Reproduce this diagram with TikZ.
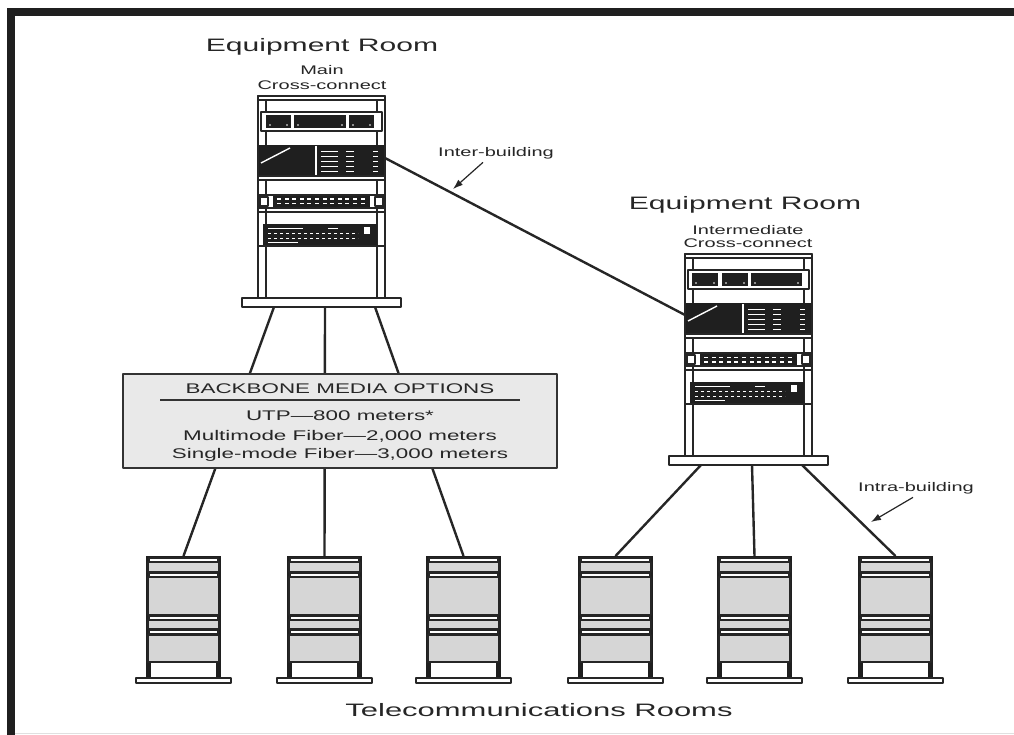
\documentclass[tikz,border=0pt]{standalone}
\usepackage{fontspec}
\setmainfont{Liberation Sans}
\usepackage{graphicx}
\usetikzlibrary{arrows.meta}

% the lettering is drawn stretched sideways
\newcommand{\wide}[2][1.6]{\scalebox{#1}[1]{#2}}

% floor rack with patch panels: name, left x, top y, blocks of the top panel
\newcommand{\bigrack}[4]{%
  \begin{scope}[shift={(#2,#3)}]
    % uprights and top bar
    \draw[frame] (0,0) rectangle (8,202);
    \draw[frame] (119,0) rectangle (127,202);
    \draw[frame] (0,0) rectangle (127,4);
    % top panel
    \draw[frame] (3,16) rectangle (124,35);
    \foreach \a/\b in {#4}{
      \fill[ink] (\a,19) rectangle (\b,32);
      \fill[white] (\a+4,29) circle (0.8) (\b-4,29) circle (0.8);
    }
    % switch
    \fill[ink] (1,49) rectangle (126,80);
    \draw[white, line width=1.4] (58,50) -- (58,79);
    \draw[white, line width=1.4] (3,67) -- (32,52);
    \foreach \yy in {55,60,65,70,75}{
      \draw[white, line width=0.8] (63,\yy) -- (80,\yy);
      \draw[white, line width=0.8] (88,\yy) -- (96,\yy);
      \draw[white, line width=0.8] (115,\yy) -- (120,\yy);
    }
    \draw[frame] (0,80) rectangle (127,84);
    % patch panel
    \draw[frame] (1,99) rectangle (126,112);
    \draw[frame] (2,101) rectangle (10,110);
    \draw[frame] (117,101) rectangle (125,110);
    \fill[ink] (15,100) rectangle (112,111);
    \foreach \i in {0,...,11}{
      \fill[white] (19+\i*7.6,102.5) rectangle ++(4,1.5);
      \fill[white] (19+\i*7.6,107) rectangle ++(4,1.5);
    }
    \draw[frame] (0,116) -- (127,116);
    % lower panel
    \fill[ink] (5,128) rectangle (119,150);
    \draw[white, line width=0.8] (10,132) -- (45,132) (70,132) -- (80,132);
    \foreach \yy in {137,142}
      \draw[white, line width=0.8, dash pattern=on 3pt off 3pt] (10,\yy) -- (100,\yy);
    \draw[white, line width=0.8] (10,146) -- (40,146);
    \fill[white] (106,131) rectangle (112,138);
    \draw[frame] (0,150) -- (127,150);
    % base plate
    \draw[frame] (-16,202) rectangle (143,211);
    \coordinate (#1-east) at (127,62);
    \coordinate (#1-west) at (0,61);
    \coordinate (#1-c1) at (16,211);
    \coordinate (#1-c2) at (67,211);
    \coordinate (#1-c3) at (117,211);
  \end{scope}}

% small rack of a telecommunications room: name, left x, top y
\newcommand{\telerack}[3]{%
  \begin{scope}[shift={(#2,#3)}]
    \fill[ink] (0,0) rectangle (5,121);
    \fill[ink] (70,0) rectangle (75,121);
    \fill[ink] (0,0) rectangle (75,2);
    \foreach \ya/\yb in {2/6,17/21,60/64,74/78}
      \draw[frame] (3,\ya) rectangle (72,\yb);
    \foreach \ya/\yb in {6/16,21/59,64/73,79/106}
      \draw[panel] (2,\ya) rectangle (73,\yb);
    \draw[frame] (-10,122) rectangle (85,127);
    \coordinate (#1-top) at (37.5,0);
  \end{scope}}

\begin{document}
\begin{tikzpicture}[x=1pt,y=-1pt,line join=round,
    ink/.style={black!88},
    frame/.style={draw=black!85, line width=1.3, fill=white},
    panel/.style={draw=black!85, line width=1.3, fill=gray!32},
    cable/.style={draw=black!85, line width=2.4},
    pointer/.style={draw=black!85, line width=1.2, -{Latex[length=10pt,width=7pt]}},
    mediabox/.style={draw=black!80, line width=1.4, fill=gray!17,
      minimum width=434pt, minimum height=94pt, inner sep=0pt},
    bigtext/.style={font=\fontsize{18}{20}\selectfont, text=black!85},
    midtext/.style={font=\fontsize{14}{16}\selectfont, text=black!85},
    smalltext/.style={font=\fontsize{12.5}{14}\selectfont, text=black!85}]

    \useasboundingbox (0,0) rectangle (1014,735);

    % page border
    \fill[ink] (7,8) rectangle (1014,16);
    \fill[ink] (7,8) rectangle (15,735);
    \draw[black!12, line width=1.5] (15,733.5) -- (1014,733.5);

    % equipment rooms
    \bigrack{mc}{258}{96}{8/33,36/88,91/116}
    \bigrack{ic}{685}{254}{7/33,37/63,66/117}

    \node[bigtext] (mcroom) at (322,47) {\wide[1.67]{Equipment Room}};
    \node[smalltext] (mcname) at (322,70) {\wide{Main}};
    \node[smalltext] (mcxc) at (322,85) {\wide{Cross-connect}};
    \node[bigtext] (icroom) at (745,205) {\wide[1.67]{Equipment Room}};
    \node[smalltext] (icname) at (748,230) {\wide{Intermediate}};
    \node[smalltext] (icxc) at (748,243) {\wide{Cross-connect}};

    % telecommunications rooms
    \telerack{tr1}{146}{556}
    \telerack{tr2}{287}{556}
    \telerack{tr3}{426}{556}
    \telerack{tr4}{578}{556}
    \telerack{tr5}{717}{556}
    \telerack{tr6}{858}{556}

    % backbone cabling
    \draw[cable] (mc-east) -- (ic-west);
    \draw[cable] (mc-c1) -- (tr1-top);
    \draw[cable] (mc-c2) -- (tr2-top);
    \draw[cable] (mc-c3) -- (tr3-top);
    \draw[cable] (ic-c1) -- (tr4-top);
    \draw[cable] (ic-c2) -- (tr5-top);
    \draw[cable] (ic-c3) -- (tr6-top);

    % media table
    \node[mediabox] (media) at (340,421) {};
    \node[midtext] (mtitle) at (340,389) {\wide{BACKBONE MEDIA OPTIONS}};
    \draw[black!80, line width=1.2] (160,400) -- (520,400);
    \node[midtext] (utp) at (340,416) {\wide{UTP---800 meters*}};
    \node[midtext] (mmf) at (340,436) {\wide{Multimode Fiber---2,000 meters}};
    \node[midtext] (smf) at (340,455) {\wide{Single-mode Fiber---3,000 meters}};

    % callouts
    \node[smalltext] (interlbl) at (496,153) {\wide{Inter-building}};
    \coordinate (interhit) at (453,189);
    \draw[pointer] ([xshift=-13pt]interlbl.south) -- (interhit);
    \node[smalltext] (intralbl) at (916,488) {\wide{Intra-building}};
    \coordinate (intrahit) at (871,522);
    \draw[pointer] ([xshift=-3pt]intralbl.south) -- (intrahit);

    \node[bigtext] (trooms) at (539,710) {\wide[1.72]{Telecommunications Rooms}};
\end{tikzpicture}
\end{document}
